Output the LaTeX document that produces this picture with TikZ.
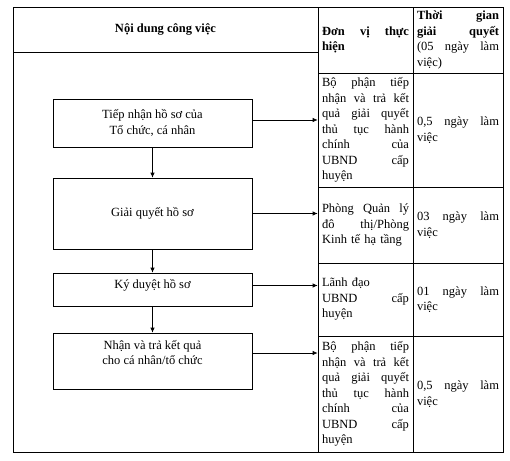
\documentclass[tikz,border=0pt]{standalone}
\usepackage{fontspec}
\setmainfont{Liberation Serif}
\usetikzlibrary{arrows.meta}

\begin{document}
\begin{tikzpicture}[
    x=1pt, y=-1pt,
    font=\fontsize{12.5}{15.5}\selectfont,
    line width=0.7pt,
    box/.style={rectangle, draw, minimum width=199pt, align=center},
    cell/.style={rectangle, draw, inner xsep=4pt, inner ysep=2pt, align=left},
    unit/.style={cell, text width=87pt},
    days/.style={cell, text width=82pt},
    arrow/.style={-{Latex[length=5pt,width=4.5pt]}}
  ]
    \useasboundingbox (0,0) rectangle (510,460);

    % Table
    \node[cell, minimum width=305pt, minimum height=45pt, align=center] (head) at (165.5,29.5) {\textbf{Nội dung công việc}};
    \node[cell, minimum width=305pt, minimum height=400pt] (body) at (165.5,252) {};
    \node[unit, minimum height=66pt] (unithead) at (365.5,40) {\textbf{Đơn\hfill vị\hfill thực}\\\textbf{hiện}};
    \node[days, minimum height=66pt] (dayshead) at (458,40) {\textbf{Thời\hfill gian}\\\textbf{giải\hfill quyết}\\(05\hfill ngày\hfill làm\\việc)};

    \node[unit, minimum height=114pt] (unitA) at (365.5,130) {Bộ\hfill phận\hfill tiếp\\nhận\hfill và\hfill trả\hfill kết\\quả\hfill giải\hfill quyết\\thủ\hfill tục\hfill hành\\chính\hfill của\\UBND\hfill cấp\\huyện};
    \node[days, minimum height=114pt] (daysA) at (458,130) {0,5\hfill ngày\hfill làm\\việc};
    \node[unit, minimum height=76pt] (unitB) at (365.5,225) {Phòng\hfill Quản\hfill lý\\đô\hfill thị/Phòng\\Kinh tế hạ tầng};
    \node[days, minimum height=76pt] (daysB) at (458,225) {03\hfill ngày\hfill làm\\việc};
    \node[unit, minimum height=73pt] (unitC) at (365.5,299.5) {Lãnh đạo\\UBND\hfill cấp\\huyện};
    \node[days, minimum height=73pt] (daysC) at (458,299.5) {01\hfill ngày\hfill làm\\việc};
    \node[unit, minimum height=116pt] (unitD) at (365.5,394) {Bộ\hfill phận\hfill tiếp\\nhận\hfill và\hfill trả\hfill kết\\quả\hfill giải\hfill quyết\\thủ\hfill tục\hfill hành\\chính\hfill của\\UBND\hfill cấp\\huyện};
    \node[days, minimum height=116pt] (daysD) at (458,394) {0,5\hfill ngày\hfill làm\\việc};

    % Boxes
    \node[box, minimum height=48pt] (recv) at (152.5,123) {Tiếp nhận hồ sơ của\\Tổ chức, cá nhân};
    \node[box, minimum height=71pt] (solve) at (152.5,213.5) {Giải quyết hồ sơ};
    \node[box, minimum height=33pt, text depth=12pt] (sign) at (152.5,289.5) {Ký duyệt hồ sơ};
    \node[box, minimum height=56pt, text depth=17pt] (reply) at (152.5,361) {Nhận và trả kết quả\\cho cá nhân/tổ chức};

    % Arrows
    \draw[arrow] (recv) -- (solve);
    \draw[arrow] (solve) -- (sign);
    \draw[arrow] (sign) -- (reply);

    \coordinate (outA) at ([yshift=3pt]recv.east);
    \coordinate (outC) at ([yshift=4pt]sign.east);
    \coordinate (outD) at ([yshift=8pt]reply.east);
    \draw[arrow] (outA) -- (outA -| unitA.west);
    \draw[arrow] (solve.east) -- (solve.east -| unitB.west);
    \draw[arrow] (outC) -- (outC -| unitC.west);
    \draw[arrow] (outD) -- (outD -| unitD.west);
  \end{tikzpicture}
\end{document}
